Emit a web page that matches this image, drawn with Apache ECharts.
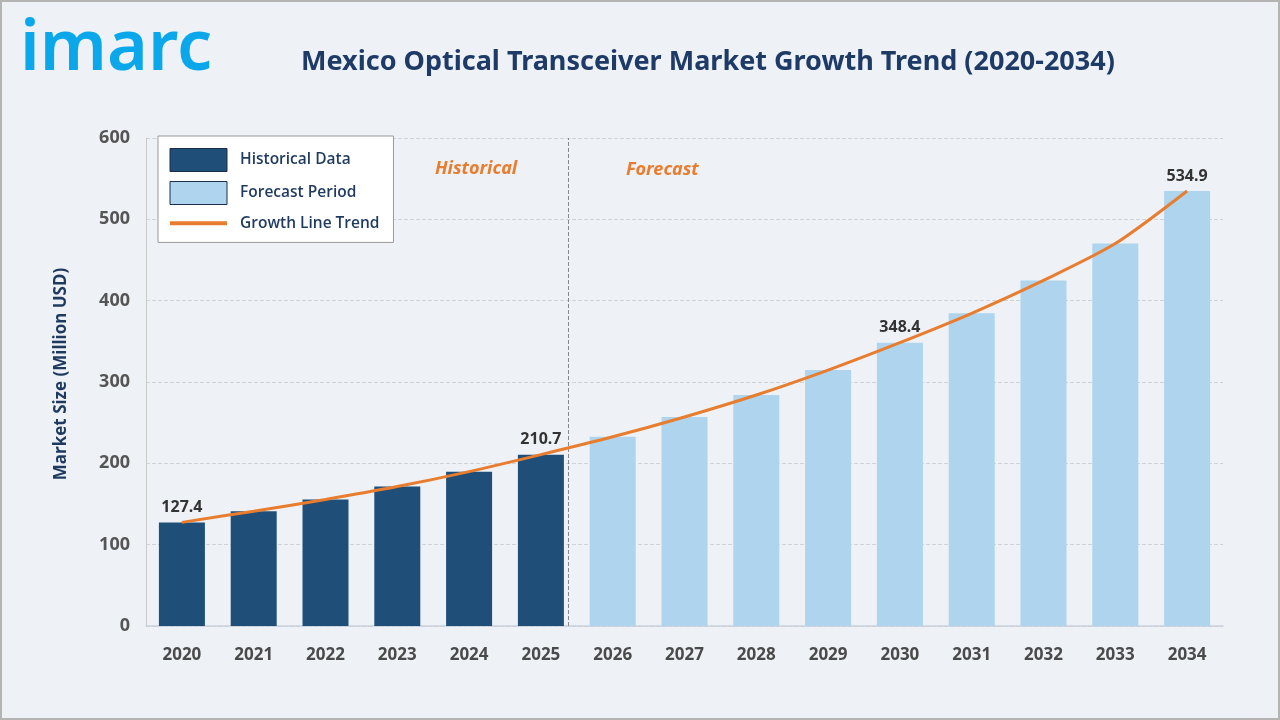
<!DOCTYPE html>
<html>
<head>
<meta charset="utf-8">
<script src="https://cdn.jsdelivr.net/npm/echarts@6/dist/echarts.min.js"></script>
<style>
  html, body { margin: 0; padding: 0; background: #eef2f7; }
  #chart { width: 1276px; height: 716px; border: 2px solid #b4b4b4; background: #eef2f7; }
</style>
</head>
<body>
<div id="chart"></div>
<script>
const years = ['2020','2021','2022','2023','2024','2025','2026','2027','2028','2029','2030','2031','2032','2033','2034'];
const historical = [127.4, 141.2, 155.5, 171.4, 189.8, 210.7];
const forecast = [232.6, 257.0, 284.0, 314.7, 348.4, 384.5, 424.9, 470.2, 534.9];
const trend = [127.4, 141.2, 155.5, 171.4, 189.8, 210.7, 232.6, 257.0, 284.0, 314.7, 348.4, 384.5, 424.9, 470.2, 534.9];
const labeledYears = ['2020', '2025', '2030', '2034'];
const yTicks = { min: 0, max: 600, interval: 100 };
const splitPosition = 5.38;

const labelStyle = { show: true, position: 'top', distance: 7, fontSize: 16, fontWeight: 'bold', color: '#333', fontFamily: 'Noto Sans' };
const histData = years.map((y, i) => {
  if (i >= historical.length) return '-';
  const v = historical[i];
  return labeledYears.includes(y) ? { value: v, label: labelStyle } : v;
});
const foreData = years.map((y, i) => {
  if (i < historical.length) return '-';
  const v = forecast[i - historical.length];
  return labeledYears.includes(y) ? { value: v, label: labelStyle } : v;
});

const chart = echarts.init(document.getElementById('chart'));
chart.setOption({
  backgroundColor: '#eef2f7',
  animation: false,
  textStyle: { fontFamily: 'Noto Sans' },
  graphic: [
    { type: 'text', left: 18, top: 13, style: { text: 'imarc', fontSize: 70, fontWeight: 600, fill: '#0aa8ea', fontFamily: 'Noto Sans' } },
    { type: 'text', left: 299, top: 47, style: { text: 'Mexico Optical Transceiver Market Growth Trend (2020-2034)', fontSize: 27, fontWeight: 'bold', fill: '#1e3a66', fontFamily: 'Noto Sans' } },
    { type: 'text', left: 433, top: 158, style: { text: 'Historical', fontSize: 18, fontStyle: 'italic', fontWeight: 'bold', fill: '#e87d2f', fontFamily: 'Noto Sans' } },
    { type: 'text', left: 624, top: 159, style: { text: 'Forecast', fontSize: 18, fontStyle: 'italic', fontWeight: 'bold', fill: '#e87d2f', fontFamily: 'Noto Sans' } }
  ],
  legend: {
    left: 156, top: 134, orient: 'vertical',
    backgroundColor: '#fff', borderColor: '#999', borderWidth: 1,
    padding: [12, 14, 10, 10],
    itemWidth: 57, itemHeight: 23, itemGap: 9,
    textStyle: { fontSize: 15.5, fontWeight: 600, color: '#1e3a5f', fontFamily: 'Open Sans', padding: [0, 0, 0, 8] },
    data: [
      { name: 'Historical Data', icon: 'rect', itemStyle: { borderColor: '#1a2e4a', borderWidth: 1 } },
      { name: 'Forecast Period', icon: 'rect', itemStyle: { borderColor: '#1a2e4a', borderWidth: 1 } },
      { name: 'Growth Line Trend', lineStyle: { width: 4 }, itemStyle: { opacity: 0 } }
    ]
  },
  grid: { left: 144, right: 55, top: 136, bottom: 92 },
  xAxis: [
    {
      type: 'category', data: years,
      axisLine: { lineStyle: { color: '#c9d1dc', width: 1.5 } },
      axisTick: { show: false },
      axisLabel: { fontSize: 17, fontWeight: 'bold', color: '#4a4a4a', margin: 21 }
    },
    { type: 'value', min: -0.5, max: 14.5, show: false }
  ],
  yAxis: {
    type: 'value', min: yTicks.min, max: yTicks.max, interval: yTicks.interval,
    name: 'Market Size (Million USD)', nameLocation: 'middle', nameGap: 76, nameRotate: 90,
    nameTextStyle: { fontSize: 17, fontWeight: 'bold', color: '#1e3a5f', padding: [0, 0, 0, 16] },
    axisLine: { show: true, onZero: false, lineStyle: { color: '#c9c9c9' } },
    axisTick: { show: false },
    axisLabel: { fontSize: 18, fontWeight: 'bold', color: '#555', margin: 16 },
    splitLine: { lineStyle: { type: 'dashed', color: '#cfd3d8' } }
  },
  series: [
    { name: 'Historical Data', type: 'bar', stack: 'v', data: histData, barWidth: 46, itemStyle: { color: '#1f4e78' } },
    { name: 'Forecast Period', type: 'bar', stack: 'v', data: foreData, barWidth: 46, itemStyle: { color: '#aed4ee' } },
    { name: 'Growth Line Trend', type: 'line', data: trend, smooth: 0.25, symbol: 'none', lineStyle: { color: '#e87d2f', width: 3 }, itemStyle: { color: '#e87d2f' }, z: 5 },
    {
      name: 'split', type: 'scatter', xAxisIndex: 1, data: [[splitPosition, 0]], symbolSize: 0, silent: true,
      markLine: {
        silent: true, symbol: 'none', label: { show: false },
        lineStyle: { type: 'dashed', color: '#888', width: 1 },
        data: [{ xAxis: splitPosition }]
      }
    }
  ]
});
</script>
</body>
</html>
